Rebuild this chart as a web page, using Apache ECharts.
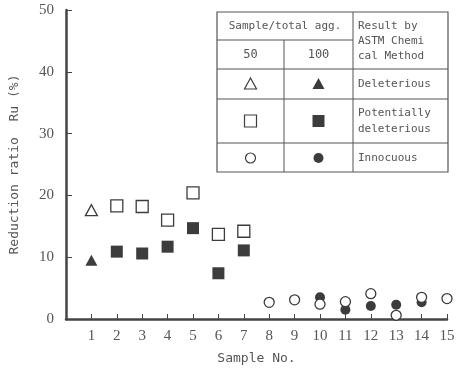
<!DOCTYPE html>
<html><head><meta charset="utf-8">
<script src="https://cdn.jsdelivr.net/npm/echarts@6/dist/echarts.min.js"></script>
<style>html,body{margin:0;padding:0;background:#fff}#c{width:460px;height:370px}</style>
</head><body><div id="c"></div>
<script>
const sampleNo = [1,2,3,4,5,6,7,8,9,10,11,12,13,14,15];
const ratio50  = [17.6,18.3,18.2,16.0,20.4,13.7,14.2,2.7,3.1,2.4,2.8,4.1,0.6,3.5,3.3];
const ratio100 = [9.5,10.9,10.6,11.7,14.7,7.4,11.1,null,null,3.5,1.5,2.1,2.3,2.7,null];
const astmResult = ['Deleterious','Potentially deleterious','Potentially deleterious','Potentially deleterious','Potentially deleterious','Potentially deleterious','Potentially deleterious','Innocuous','Innocuous','Innocuous','Innocuous','Innocuous','Innocuous','Innocuous','Innocuous'];
const yTicks = [0,10,20,30,40,50];
const classes = ['Deleterious','Potentially deleterious','Innocuous'];
const classSymbols = ['triangle','rect','circle'];

const INK = '#3c3c3c';
const symSize = {triangle:[12,11], rect:12, circle:10};

function pts(vals, cls){
  const out=[];
  sampleNo.forEach((s,i)=>{ if(astmResult[i]===cls && vals[i]!=null) out.push([s, vals[i]]); });
  return out;
}
const series=[];
classes.forEach((cls,k)=>{
  const sym = classSymbols[k];
  series.push({type:'scatter', name:cls+' 100', symbol:sym, symbolSize:symSize[sym],
    data:pts(ratio100,cls), itemStyle:{color:INK, opacity:1}, z:3});
});
classes.forEach((cls,k)=>{
  const sym = classSymbols[k];
  series.push({type:'scatter', name:cls+' 50', symbol:sym, symbolSize:symSize[sym],
    data:pts(ratio50,cls), itemStyle:{color:'#fff', borderColor:INK, borderWidth:1.3, opacity:1}, z:4});
});

// legend table
const TX = [217,284,353,448];
const TY = [12,40,69,99,143,172];
const lineStyle = {stroke:'#555', lineWidth:1};
const mono = '"DejaVu Sans Mono", "Liberation Mono", monospace';
const g = [];
g.push({type:'rect', shape:{x:TX[0],y:TY[0],width:TX[3]-TX[0],height:TY[5]-TY[0]}, style:{fill:'#fff',stroke:'#555',lineWidth:1.2}, z:10});
function hl(x1,x2,y){g.push({type:'line',shape:{x1:x1,y1:y,x2:x2,y2:y},style:lineStyle,z:11});}
function vl(x,y1,y2){g.push({type:'line',shape:{x1:x,y1:y1,x2:x,y2:y2},style:lineStyle,z:11});}
hl(TX[0],TX[2],TY[1]); hl(TX[0],TX[3],TY[2]); hl(TX[0],TX[3],TY[3]); hl(TX[0],TX[3],TY[4]);
vl(TX[1],TY[1],TY[5]); vl(TX[2],TY[0],TY[5]);
function txt(x,y,s,align,size){g.push({type:'text',x:x,y:y,style:{text:s,fill:'#555',font:(size||11)+'px '+mono,align:align||'center',verticalAlign:'middle'},z:12});}
txt((TX[0]+TX[2])/2, 26, 'Sample/total agg.');
txt((TX[0]+TX[1])/2, 55, '50', 'center', 12);
txt((TX[1]+TX[2])/2, 55, '100', 'center', 12);
txt(358, 26, 'Result by', 'left');
txt(358, 41, 'ASTM Chemi', 'left');
txt(358, 56, 'cal Method', 'left');
txt(358, 84, 'Deleterious', 'left');
txt(358, 113, 'Potentially', 'left');
txt(358, 129, 'deleterious', 'left');
txt(358, 158, 'Innocuous', 'left');
const rowY=[84,121,158];
const c1=(TX[0]+TX[1])/2, c2=(TX[1]+TX[2])/2;
g.push({type:'polygon',shape:{points:[[c1,78],[c1-6,89],[c1+6,89]]},style:{fill:'#fff',stroke:INK,lineWidth:1.2},z:12});
g.push({type:'polygon',shape:{points:[[c2,78],[c2-6,89],[c2+6,89]]},style:{fill:INK},z:12});
g.push({type:'rect',shape:{x:c1-6,y:rowY[1]-6,width:12,height:12},style:{fill:'#fff',stroke:INK,lineWidth:1.2},z:12});
g.push({type:'rect',shape:{x:c2-6,y:rowY[1]-6,width:12,height:12},style:{fill:INK},z:12});
g.push({type:'circle',shape:{cx:c1,cy:rowY[2],r:5},style:{fill:'#fff',stroke:INK,lineWidth:1.2},z:12});
g.push({type:'circle',shape:{cx:c2,cy:rowY[2],r:5},style:{fill:INK},z:12});

const chart = echarts.init(document.getElementById('c'),null,{renderer:'canvas'});
chart.setOption({
  animation:false,
  backgroundColor:'#fff',
  grid:{left:65,right:13,top:10,bottom:50,containLabel:false},
  xAxis:{type:'value', min:0, max:15, interval:1,
    name:'Sample No.', nameLocation:'middle', nameGap:33,
    nameTextStyle:{fontFamily:mono, fontSize:13, color:'#555'},
    axisLine:{lineStyle:{color:'#444',width:2.5}},
    axisTick:{inside:true,length:5,lineStyle:{color:'#444',width:1}},
    axisLabel:{margin:10, fontFamily:'"Liberation Serif", serif', fontSize:15, color:'#555',
      formatter:v=> v===0?'':String(v)},
    splitLine:{show:false}},
  yAxis:{type:'value', min:0, max:50, interval:10,
    name:'Reduction ratio  Ru (%)', nameLocation:'middle', nameGap:45,
    nameTextStyle:{fontFamily:mono, fontSize:13, color:'#555'},
    axisLine:{show:true,lineStyle:{color:'#444',width:2.5}},
    axisTick:{show:true,inside:true,length:6,lineStyle:{color:'#444',width:1}},
    axisLabel:{margin:12, fontFamily:'"Liberation Serif", serif', fontSize:15, color:'#555',
      formatter:v=> yTicks.includes(v)?String(v):''},
    splitLine:{show:false}},
  series:series,
  graphic:g
});
</script></body></html>
